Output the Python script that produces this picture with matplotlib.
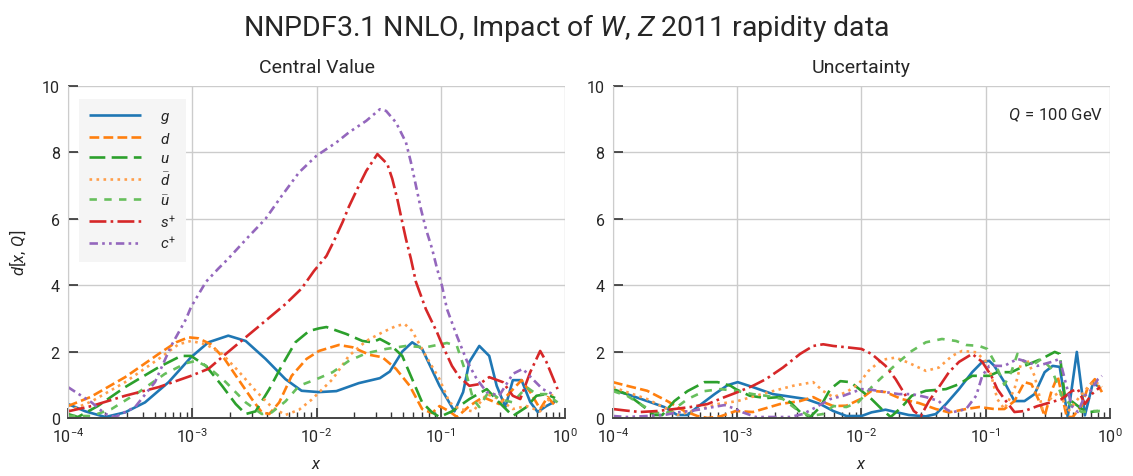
import numpy as np
import matplotlib
matplotlib.use("Agg")
import matplotlib.pyplot as plt
from matplotlib import font_manager
from matplotlib.ticker import LogLocator, NullFormatter

# ---------------------------------------------------------------------------
# Distances d[x, Q] at Q = 100 GeV, tabulated against log10(x)
# ---------------------------------------------------------------------------
labels = ["$g$", "$d$", "$u$", r"$\bar{d}$", r"$\bar{u}$", "$s^{+}$", "$c^{+}$"]

# Central value
cv_g_lx = [-4.0, -3.86, -3.70, -3.54, -3.38, -3.19, -3.01, -2.87, -2.71, -2.57, -2.41, -2.25,
           -2.12, -1.98, -1.84, -1.66, -1.49, -1.41, -1.31, -1.23, -1.15, -1.01, -0.89, -0.82,
           -0.77, -0.69, -0.61, -0.55, -0.48, -0.42, -0.35, -0.28, -0.22, -0.15, -0.08]
cv_g = [0.42, 0.20, 0.03, 0.17, 0.47, 1.08, 1.83, 2.28, 2.48, 2.32, 1.78, 1.17,
        0.82, 0.78, 0.81, 1.05, 1.20, 1.40, 2.00, 2.28, 2.08, 0.97, 0.20, 0.78,
        1.69, 2.17, 1.87, 0.97, 0.33, 1.14, 1.14, 0.48, 0.18, 0.36, 0.50]

cv_d_lx = [-4.0, -3.82, -3.54, -3.27, -3.13, -3.03, -2.95, -2.85, -2.74, -2.63, -2.52, -2.44,
           -2.38, -2.30, -2.20, -2.08, -1.98, -1.82, -1.71, -1.57, -1.47, -1.36, -1.25, -1.15,
           -1.07, -1.01, -0.93, -0.87, -0.77, -0.66, -0.53, -0.44, -0.35, -0.28, -0.20, -0.14, -0.07]
cv_d = [0.36, 0.63, 1.23, 1.93, 2.28, 2.43, 2.40, 2.22, 1.78, 1.17, 0.57, 0.17,
        0.12, 0.47, 1.27, 1.78, 2.02, 2.20, 2.13, 1.90, 1.83, 1.48, 0.97, 0.27,
        0.15, 0.36, 0.20, 0.03, 0.36, 0.63, 0.42, 0.78, 1.14, 0.78, 0.27, 0.63, 0.33]

cv_u_lx = [-4.0, -3.92, -3.76, -3.54, -3.27, -3.09, -3.01, -2.89, -2.76, -2.65, -2.57, -2.49,
           -2.38, -2.28, -2.17, -2.06, -1.98, -1.92, -1.76, -1.63, -1.55, -1.49, -1.41, -1.31,
           -1.23, -1.15, -1.07, -1.01, -0.91, -0.77, -0.63, -0.53, -0.42, -0.31, -0.23, -0.15, -0.08]
cv_u = [0.12, 0.03, 0.36, 0.93, 1.53, 1.87, 1.87, 1.57, 0.97, 0.42, 0.12, 0.20,
        0.87, 1.57, 2.28, 2.62, 2.70, 2.74, 2.53, 2.32, 2.28, 2.38, 2.22, 1.87,
        1.17, 0.47, 0.17, 0.03, 0.20, 0.57, 0.87, 0.47, 0.06, 0.33, 0.67, 0.72, 0.60]

cv_dbar_lx = [-4.0, -3.81, -3.54, -3.27, -3.11, -3.01, -2.89, -2.76, -2.63, -2.49, -2.36, -2.25,
              -2.14, -2.04, -1.87, -1.74, -1.60, -1.47, -1.36, -1.29, -1.23, -1.12, -1.01, -0.93,
              -0.85, -0.74, -0.63, -0.53, -0.42, -0.31, -0.20, -0.10]
cv_dbar = [0.20, 0.50, 1.08, 1.78, 2.22, 2.32, 2.22, 1.93, 1.42, 0.82, 0.33, 0.09,
           0.25, 0.55, 1.17, 1.87, 2.32, 2.58, 2.77, 2.83, 2.62, 1.87, 1.17, 0.47,
           0.27, 0.20, 0.72, 0.57, 0.27, 0.36, 0.20, 0.72]

cv_ubar_lx = [-4.0, -3.81, -3.65, -3.43, -3.22, -3.05, -2.97, -2.87, -2.73, -2.57, -2.44, -2.36,
              -2.25, -2.14, -2.00, -1.87, -1.74, -1.60, -1.44, -1.28, -1.12, -0.95, -0.87, -0.79,
              -0.74, -0.69, -0.61, -0.53, -0.42, -0.31, -0.23, -0.15, -0.06]
cv_ubar = [0.06, 0.06, 0.27, 0.78, 1.33, 1.65, 1.72, 1.53, 1.08, 0.47, 0.12, 0.17,
           0.50, 0.97, 1.17, 1.38, 1.72, 1.95, 2.08, 2.17, 2.13, 2.26, 2.17, 1.27,
           0.57, 0.33, 0.82, 0.57, 0.47, 0.93, 0.72, 0.72, 0.47]

cv_sp_lx = [-4.0, -3.81, -3.54, -3.27, -3.01, -2.87, -2.73, -2.57, -2.41, -2.25, -2.12, -2.02,
            -1.92, -1.86, -1.79, -1.74, -1.66, -1.60, -1.51, -1.43, -1.39, -1.35, -1.31, -1.28,
            -1.24, -1.20, -1.12, -1.03, -0.99, -0.91, -0.85, -0.77, -0.69, -0.61, -0.50, -0.42,
            -0.36, -0.28, -0.20, -0.15, -0.06]
cv_sp = [0.20, 0.36, 0.67, 0.93, 1.27, 1.48, 1.93, 2.43, 2.93, 3.43, 3.90, 4.43,
         4.88, 5.33, 5.90, 6.36, 6.99, 7.44, 7.95, 7.65, 7.20, 6.60, 5.90, 5.39,
         4.79, 4.10, 3.28, 2.58, 2.22, 1.57, 1.23, 0.97, 1.02, 1.23, 1.08, 0.67,
         0.57, 1.38, 2.02, 1.69, 0.87]

cv_cp_lx = [-4.0, -3.81, -3.70, -3.62, -3.46, -3.30, -3.17, -3.05, -3.01, -2.89, -2.79, -2.71,
            -2.55, -2.41, -2.28, -2.14, -2.00, -1.84, -1.74, -1.60, -1.49, -1.44, -1.36, -1.28,
            -1.24, -1.20, -1.16, -1.12, -1.07, -1.03, -0.99, -0.95, -0.87, -0.79, -0.71, -0.63,
            -0.53, -0.42, -0.34, -0.26, -0.18, -0.10]
cv_cp = [0.93, 0.47, 0.12, 0.03, 0.33, 1.08, 2.17, 2.98, 3.34, 4.10, 4.50, 4.80,
         5.45, 6.00, 6.69, 7.40, 7.90, 8.30, 8.60, 8.95, 9.30, 9.25, 8.90, 8.30,
         7.70, 7.00, 6.30, 5.70, 5.10, 4.50, 3.98, 3.28, 2.47, 1.72, 1.17, 0.78,
         0.67, 1.33, 1.48, 1.17, 0.87, 0.72]

# Uncertainty
un_g_lx = [-4.0, -3.887, -3.725, -3.587, -3.482, -3.40, -3.32, -3.182, -3.077, -2.996, -2.874,
           -2.713, -2.551, -2.445, -2.332, -2.227, -2.121, -2.0, -1.919, -1.806, -1.725, -1.619,
           -1.482, -1.401, -1.32, -1.215, -1.109, -1.028, -0.972, -0.931, -0.85, -0.769, -0.688,
           -0.607, -0.526, -0.462, -0.405, -0.34, -0.267, -0.202, -0.138, -0.081]
un_g = [0.84, 0.72, 0.51, 0.33, 0.09, 0.09, 0.33, 0.72, 0.99, 1.08, 0.93,
        0.72, 0.63, 0.57, 0.42, 0.21, 0.06, 0.06, 0.17, 0.25, 0.18, 0.09,
        0.05, 0.12, 0.42, 0.87, 1.38, 1.69, 1.72, 1.57, 1.08, 0.51, 0.51,
        0.72, 1.38, 1.57, 1.54, 0.03, 1.99, 0.08, 1.05, 0.93]

un_d_lx = [-4.0, -3.887, -3.725, -3.563, -3.425, -3.32, -3.239, -3.134, -3.012, -2.874, -2.793,
           -2.656, -2.494, -2.389, -2.308, -2.227, -2.121, -2.008, -1.919, -1.806, -1.676, -1.538,
           -1.401, -1.296, -1.158, -1.053, -0.931, -0.85, -0.769, -0.688, -0.632, -0.567, -0.526,
           -0.47, -0.421, -0.348, -0.30, -0.227, -0.178, -0.122, -0.065]
un_d = [1.08, 0.97, 0.82, 0.51, 0.21, 0.06, 0.0, 0.05, 0.21, 0.18, 0.27,
        0.42, 0.51, 0.63, 0.48, 0.36, 0.37, 0.57, 0.82, 0.78, 0.57, 0.45,
        0.27, 0.17, 0.27, 0.33, 0.27, 0.27, 0.51, 1.08, 1.02, 0.48, 0.06,
        0.82, 1.26, 0.03, 0.03, 0.37, 0.93, 1.17, 0.78]

un_u_lx = [-4.0, -3.887, -3.78, -3.668, -3.603, -3.506, -3.40, -3.263, -3.158, -3.053, -3.012,
           -2.899, -2.769, -2.656, -2.575, -2.494, -2.413, -2.332, -2.251, -2.17, -2.089, -2.0,
           -1.919, -1.838, -1.765, -1.676, -1.595, -1.482, -1.32, -1.215, -1.109, -0.972, -0.907,
           -0.793, -0.688, -0.551, -0.445, -0.405, -0.364, -0.30, -0.227, -0.162, -0.097]
un_u = [0.87, 0.72, 0.42, 0.09, 0.09, 0.51, 0.81, 1.08, 1.08, 0.97, 0.87,
        0.67, 0.60, 0.63, 0.48, 0.18, 0.03, 0.33, 0.87, 1.11, 1.08, 0.82,
        0.57, 0.27, 0.03, 0.33, 0.67, 0.82, 0.87, 1.02, 1.27, 1.27, 1.38,
        1.38, 1.57, 1.78, 1.99, 1.93, 0.67, 0.48, 0.27, 0.18, 0.21]

un_dbar_lx = [-4.0, -3.887, -3.725, -3.563, -3.482, -3.40, -3.296, -3.158, -2.996, -2.85, -2.713,
              -2.551, -2.389, -2.308, -2.227, -2.121, -2.024, -1.943, -1.838, -1.725, -1.619,
              -1.482, -1.377, -1.271, -1.19, -1.077, -0.996, -0.955, -0.907, -0.85, -0.769,
              -0.713, -0.672, -0.607, -0.543, -0.47, -0.405, -0.34, -0.259, -0.178, -0.122, -0.065]
un_dbar = [0.93, 0.78, 0.57, 0.27, 0.09, 0.17, 0.27, 0.42, 0.51, 0.67, 0.81,
           0.97, 1.08, 0.81, 0.63, 0.78, 1.02, 1.42, 1.75, 1.82, 1.66,
           1.42, 1.52, 1.87, 2.02, 1.98, 1.69, 1.27, 0.57, 0.27, 0.87,
           1.69, 1.78, 1.27, 0.27, 0.62, 0.78, 0.18, 0.57, 0.93, 1.11, 0.93]

un_ubar_lx = [-4.0, -3.887, -3.78, -3.668, -3.587, -3.506, -3.40, -3.263, -3.134, -3.012, -2.874,
              -2.769, -2.632, -2.526, -2.413, -2.308, -2.227, -2.121, -2.024, -1.919, -1.806,
              -1.70, -1.595, -1.482, -1.352, -1.239, -1.158, -1.053, -0.988, -0.931, -0.85,
              -0.793, -0.745, -0.688, -0.632, -0.551, -0.47, -0.389, -0.308, -0.227, -0.146, -0.081]
un_ubar = [0.81, 0.67, 0.42, 0.17, 0.12, 0.27, 0.57, 0.81, 0.87, 0.82, 0.72,
           0.67, 0.57, 0.27, 0.06, 0.12, 0.36, 0.33, 0.48, 0.93, 1.33,
           1.69, 2.02, 2.28, 2.38, 2.32, 2.20, 2.17, 2.08, 1.70, 1.00,
           1.40, 1.93, 1.69, 1.57, 1.78, 1.48, 0.67, 0.36, 0.18, 0.21, 0.21]

un_sp_lx = [-4.0, -3.887, -3.78, -3.644, -3.506, -3.377, -3.239, -3.101, -2.996, -2.874, -2.769,
            -2.632, -2.494, -2.389, -2.308, -2.227, -2.121, -2.0, -1.919, -1.806, -1.725, -1.644,
            -1.579, -1.522, -1.457, -1.377, -1.296, -1.215, -1.109, -1.028, -0.955, -0.907, -0.85,
            -0.769, -0.688, -0.583, -0.47, -0.389, -0.308, -0.259, -0.202, -0.146, -0.081]
un_sp = [0.27, 0.22, 0.18, 0.21, 0.27, 0.33, 0.42, 0.63, 0.78, 0.97, 1.17,
         1.52, 1.93, 2.17, 2.22, 2.17, 2.13, 2.08, 1.93, 1.57, 1.17, 0.67,
         0.21, 0.06, 0.51, 0.93, 1.38, 1.69, 1.93, 1.69, 1.27, 0.87, 0.57,
         0.18, 0.21, 0.36, 0.48, 0.57, 0.81, 0.87, 0.42, 0.72, 0.93]

un_cp_lx = [-4.0, -3.887, -3.725, -3.587, -3.482, -3.377, -3.239, -3.101, -3.012, -2.955, -2.85,
            -2.713, -2.575, -2.47, -2.364, -2.251, -2.146, -2.0, -1.919, -1.806, -1.70, -1.595,
            -1.482, -1.377, -1.32, -1.271, -1.158, -1.077, -1.028, -0.972, -0.85, -0.745, -0.664,
            -0.583, -0.47, -0.405, -0.364, -0.308, -0.259, -0.202, -0.146, -0.097, -0.065]
un_cp = [0.06, 0.03, 0.06, 0.09, 0.17, 0.21, 0.30, 0.39, 0.27, 0.17, 0.03,
         0.03, 0.03, 0.12, 0.33, 0.57, 0.67, 0.87, 0.85, 0.78, 0.72, 0.72,
         0.63, 0.51, 0.27, 0.17, 0.27, 0.67, 1.27, 1.57, 1.57, 1.78, 1.69,
         1.57, 1.69, 1.78, 1.17, 0.36, 0.18, 0.67, 0.87, 1.17, 1.27]

central = [(cv_g_lx, cv_g), (cv_d_lx, cv_d), (cv_u_lx, cv_u), (cv_dbar_lx, cv_dbar),
           (cv_ubar_lx, cv_ubar), (cv_sp_lx, cv_sp), (cv_cp_lx, cv_cp)]
uncert = [(un_g_lx, un_g), (un_d_lx, un_d), (un_u_lx, un_u), (un_dbar_lx, un_dbar),
          (un_ubar_lx, un_ubar), (un_sp_lx, un_sp), (un_cp_lx, un_cp)]

# ---------------------------------------------------------------------------
# Styling
# ---------------------------------------------------------------------------
colors = ["#1f77b4", "#ff7f0e", "#2ca02c", "#ff9e4a", "#67bf5c", "#d62728", "#9467bd"]
dashes = [None, (3.7, 1.6), (6.0, 2.4), (1.0, 1.65), (2.8, 2.8), (6.4, 1.6, 1.0, 1.6),
          (3.2, 1.6, 1.0, 1.6, 1.0, 1.6)]

available = {f.name for f in font_manager.fontManager.ttflist}
family = "Roboto" if "Roboto" in available else "DejaVu Sans"

plt.rcParams.update({
    "font.family": family,
    "font.weight": "normal",
    "mathtext.fontset": "custom",
    "mathtext.rm": family,
    "mathtext.it": f"{family}:italic",
    "mathtext.bf": f"{family}:bold",
    "text.color": "#262626",
    "axes.labelcolor": "#262626",
    "xtick.color": "#262626",
    "ytick.color": "#262626",
})

fig = plt.figure(figsize=(11.33, 4.77), dpi=100)
ax_cv = fig.add_axes([0.060, 0.1216, 0.4387, 0.696])
ax_un = fig.add_axes([0.541, 0.1216, 0.4387, 0.696])

for ax, series, title in [(ax_cv, central, "Central Value"), (ax_un, uncert, "Uncertainty")]:
    for (lx, vals), lab, col, dsh in zip(series, labels, colors, dashes):
        x = 10.0 ** np.asarray(lx)
        line, = ax.plot(x, vals, color=col, lw=1.9, label=lab,
                        solid_capstyle="butt", dash_capstyle="butt")
        if dsh is not None:
            line.set_dashes(dsh)
    ax.set_xscale("log")
    ax.set_xlim(1e-4, 1.0)
    ax.set_ylim(0, 10)
    ax.set_yticks([0, 2, 4, 6, 8, 10])
    ax.xaxis.set_major_locator(LogLocator(base=10, numticks=10))
    ax.xaxis.set_minor_locator(LogLocator(base=10, subs=np.arange(2, 10), numticks=50))
    ax.xaxis.set_minor_formatter(NullFormatter())
    ax.grid(True, which="major", color="#cccccc", lw=1.0)
    ax.set_axisbelow(True)
    ax.tick_params(which="both", direction="in", labelsize=11.5, pad=6)
    ax.tick_params(which="major", length=7, width=1.2, color="#333333")
    ax.tick_params(which="minor", length=4, width=1.0, color="#333333")
    ax.tick_params(axis="y", which="both", left=True, right=False)
    ax.tick_params(axis="x", which="both", bottom=True, top=False)
    for side in ["top", "right"]:
        ax.spines[side].set_visible(False)
    ax.spines["left"].set_color("#cccccc")
    ax.spines["bottom"].set_color("#444444")
    ax.spines["bottom"].set_linewidth(1.4)
    ax.set_title(title, fontsize=14, pad=10)
    ax.set_xlabel("$x$", fontsize=12, labelpad=8)

ax_cv.set_ylabel(r"$d[x,\,Q]$", fontsize=12, labelpad=10)

leg = ax_cv.legend(loc="upper left", fontsize=11, handlelength=3.4, handletextpad=1.2,
                   labelspacing=0.35, borderpad=0.7, frameon=True, fancybox=False,
                   bbox_to_anchor=(0.006, 0.985))
leg.get_frame().set_facecolor("#f5f5f5")
leg.get_frame().set_edgecolor("none")
leg.get_frame().set_alpha(1.0)

ax_un.text(0.986, 0.915, r"$Q\,=\,100$ GeV", transform=ax_un.transAxes,
           ha="right", va="center", fontsize=12)

fig.suptitle("NNPDF3.1 NNLO, Impact of $W$, $Z$ 2011 rapidity data", fontsize=20.5,
             y=0.975)

fig.savefig("out.png", dpi=100)
